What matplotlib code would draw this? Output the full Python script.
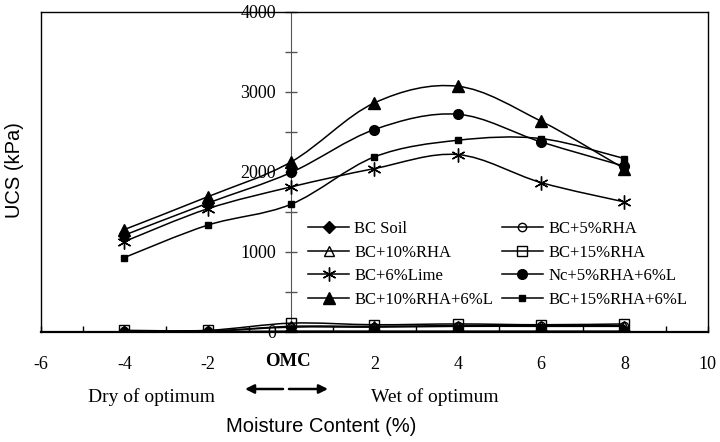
import numpy as np
import matplotlib.pyplot as plt
from matplotlib.path import Path
from matplotlib.patches import PathPatch, FancyArrowPatch
from matplotlib.lines import Line2D
from matplotlib.ticker import MultipleLocator, FixedLocator

plt.rcParams['font.family'] = ['Liberation Serif', 'DejaVu Serif']

# moisture content relative to OMC (%)
mc = [-4, -2, 0, 2, 4, 6, 8]

names = ['BC Soil', 'BC+5%RHA', 'BC+10%RHA', 'BC+15%RHA',
         'BC+6%Lime', 'Nc+5%RHA+6%L', 'BC+10%RHA+6%L', 'BC+15%RHA+6%L']

# UCS (kPa)
bc_soil = [5, 5, 10, 10, 10, 10, 10]
bc_5rha = [10, 10, 60, 60, 70, 70, 70]
bc_10rha = [10, 10, 70, 70, 80, 80, 80]
bc_15rha = [20, 20, 110, 90, 100, 90, 100]
bc_6lime = [1130, 1540, 1813, 2042, 2217, 1867, 1625]
nc_5rha_6l = [1210, 1610, 1993, 2530, 2721, 2375, 2071]
bc_10rha_6l = [1280, 1690, 2125, 2863, 3071, 2634, 2040]
bc_15rha_6l = [930, 1335, 1596, 2188, 2396, 2417, 2167]

series = [bc_soil, bc_5rha, bc_10rha, bc_15rha,
          bc_6lime, nc_5rha_6l, bc_10rha_6l, bc_15rha_6l]

# marker, size, face
styles = [('D', 6, 'k'), ('o', 6, 'none'), ('^', 7, 'none'), ('s', 7, 'none'),
          ((6, 2, 0), 10, 'k'), ('o', 7, 'k'), ('^', 8, 'k'), ('s', 4.5, 'k')]


def smooth_path(x, y, t=1/6):
    # bezier segments through the points (excel-like smoothed line)
    x = np.asarray(x, float)
    y = np.asarray(y, float)
    n = len(x)
    verts = [(x[0], y[0])]
    codes = [Path.MOVETO]
    for i in range(n - 1):
        i0 = max(i - 1, 0)
        i3 = min(i + 2, n - 1)
        c1 = (x[i] + (x[i + 1] - x[i0]) * t, y[i] + (y[i + 1] - y[i0]) * t)
        c2 = (x[i + 1] - (x[i3] - x[i]) * t, y[i + 1] - (y[i3] - y[i]) * t)
        verts += [c1, c2, (x[i + 1], y[i + 1])]
        codes += [Path.CURVE4] * 3
    return Path(verts, codes)


fig = plt.figure(figsize=(7.2, 4.42), dpi=100)
ax = fig.add_axes([0.057, 0.249, 0.926, 0.724])

handles = []
for vals, (m, ms, fc), name in zip(series, styles, names):
    ax.add_patch(PathPatch(smooth_path(mc, vals), fill=False, lw=1.1,
                           edgecolor='k', zorder=3))
    ax.plot(mc, vals, ls='none', marker=m, ms=ms, mfc=fc, mec='k',
            mew=1.0, zorder=4)
    handles.append(Line2D([], [], color='k', lw=1.1, marker=m, ms=ms,
                          mfc=fc, mec='k', mew=1.0))

ax.set_xlim(-6, 10)
ax.set_ylim(0, 4000)

# y axis runs through OMC
ax.spines['left'].set_position(('data', 0))
ax.spines['left'].set_color('#555555')
ax.plot([0, 0], [0, 1], transform=ax.transAxes, color='k', lw=1.0,
        clip_on=False, zorder=5)
for s in ['top', 'right']:
    ax.spines[s].set_linewidth(1.0)
ax.spines['bottom'].set_linewidth(1.6)

ax.yaxis.set_major_locator(MultipleLocator(1000))
ax.yaxis.set_minor_locator(MultipleLocator(500))
ax.tick_params(axis='y', which='both', direction='inout', length=8,
               width=1.0, color='#555555', labelsize=13, pad=7)

ax.xaxis.set_major_locator(FixedLocator([-6, -4, -2, 0, 2, 4, 6, 8, 10]))
ax.xaxis.set_minor_locator(MultipleLocator(1))
ax.set_xticklabels(['-6', '-4', '-2', '', '2', '4', '6', '8', '10'])
ax.tick_params(axis='x', which='both', direction='in', length=4,
               width=1.0, labelsize=13, pad=17)

# legend filled column by column, so reorder to read row-wise
order = [0, 2, 4, 6, 1, 3, 5, 7]
ax.legend([handles[i] for i in order], [names[i] for i in order], ncol=2,
          loc='lower left', bbox_to_anchor=(0.39, 0.055), frameon=False,
          fontsize=12, handlelength=2.5, handletextpad=0.3,
          columnspacing=0.5, labelspacing=0.45, borderaxespad=0)

fig.text(288 / 720, 1 - 361 / 442, 'OMC', ha='center', va='center',
         fontsize=13.5, fontweight='bold')
for x0, x1 in [(283, 245), (289, 328)]:
    fig.patches.append(FancyArrowPatch((x0 / 720, 1 - 389 / 442), (x1 / 720, 1 - 389 / 442),
                                       transform=fig.transFigure, arrowstyle='-|>',
                                       mutation_scale=13, lw=1.8, color='k',
                                       shrinkA=0, shrinkB=0))
fig.text(152 / 720, 1 - 397 / 442, 'Dry of optimum', ha='center', va='center',
         fontsize=14)
fig.text(435 / 720, 1 - 397 / 442, 'Wet of optimum', ha='center', va='center',
         fontsize=14)
fig.text(321 / 720, 1 - 427 / 442, 'Moisture Content (%)', ha='center',
         va='center', fontsize=14.5, family='Liberation Sans')
fig.text(15 / 720, 1 - 170 / 442, 'UCS (kPa)', ha='center', va='center',
         rotation=90, fontsize=14.5, family='Liberation Sans')

fig.savefig('out.png', dpi=100)
